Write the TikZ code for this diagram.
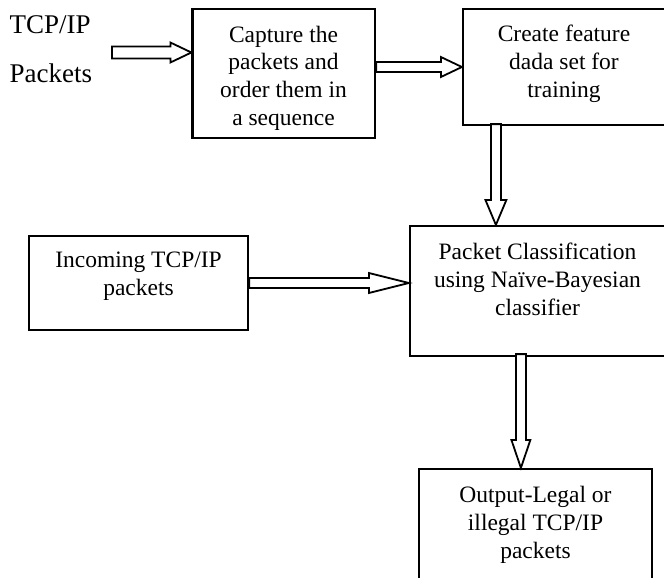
\documentclass[tikz,border=0pt]{standalone}
\usepackage{fontspec}
\setmainfont{Liberation Serif}
\usetikzlibrary{calc}
\tikzset{
  box/.style={draw, line width=2.2pt, inner sep=0pt},
  txt/.style={align=center, inner sep=0pt, font=\fontsize{23.5}{27.6}\selectfont, anchor=base},
  harr/.style args={#1/#2/#3}{draw, line width=1.8pt, fill=white, line join=miter,
    to path={let \p1=(\tikztostart), \p2=(\tikztotarget) in
      (\x1,\y2+#1) -- (\x2-#3,\y2+#1) -- (\x2-#3,\y2+#2) -- (\x2,\y2) --
      (\x2-#3,\y2-#2) -- (\x2-#3,\y2-#1) -- (\x1,\y2-#1) -- cycle}},
  varr/.style args={#1/#2/#3}{draw, line width=1.8pt, fill=white, line join=miter,
    to path={let \p1=(\tikztostart), \p2=(\tikztotarget) in
      (\x2-#1,\y1) -- (\x2-#1,\y2+#3) -- (\x2-#2,\y2+#3) -- (\x2,\y2) --
      (\x2+#2,\y2+#3) -- (\x2+#1,\y2+#3) -- (\x2+#1,\y1) -- cycle}}
}
\begin{document}
\begin{tikzpicture}[x=1pt,y=-1pt]
\useasboundingbox (0,0) rectangle (664,578);
\fill[white] (0,0) rectangle (664,578);
\clip (0,0) rectangle (664,578);

% boxes
\node[box, minimum width=182.5pt, minimum height=129pt] (cap) at (283.75,73.5) {};
\node[box, minimum width=205pt, minimum height=116pt] (feat) at (565.5,67) {};
\node[box, minimum width=258pt, minimum height=130pt] (cls) at (539,291) {};
\node[box, minimum width=219pt, minimum height=94pt] (inc) at (138.5,283) {};
\node[box, minimum width=233pt, minimum height=126pt] (out) at (535.5,532) {};

% texts (anchored at the baseline of their last line)
\node[anchor=base west, align=left, inner sep=0pt, font=\fontsize{27}{49}\selectfont] (tcp) at (9.5,82) {TCP/IP\\Packets};
\node[txt] (captxt) at (283.5,125) {Capture the\\packets and\\order them in\\a sequence};
\node[txt] (feattxt) at (564,97) {Create feature\\dada set for\\training};
\node[txt] (clstxt) at (537.5,315) {Packet Classification\\using Naïve-Bayesian\\classifier};
\node[txt] (inctxt) at (138.5,295) {Incoming TCP/IP\\packets};
\node[txt] (outtxt) at (535.5,558) {Output-Legal or\\illegal TCP/IP\\packets};

% connectors
\coordinate (src) at (112,52.5);
\draw[harr=6pt/10pt/21pt] (src) to (cap.west |- src);
\draw[harr=5pt/10pt/21pt] (cap.east |- feat.west) to (feat.west);
\coordinate (a3) at ([xshift=34pt]feat.south west);
\coordinate (a3t) at ([yshift=2pt]a3);
\draw[varr=5pt/10.5pt/25pt] (a3t) to (a3 |- cls.north);
\draw[harr=5pt/10pt/40pt] (inc.east) to (inc.east -| cls.west);
\coordinate (a5) at ([xshift=103pt]out.north west);
\coordinate (a5b) at (a5 |- cls.south);
\coordinate (a5t) at ([yshift=3pt]a5b);
\draw[varr=5pt/9.5pt/28pt] (a5t) to (a5);
\end{tikzpicture}
\end{document}
